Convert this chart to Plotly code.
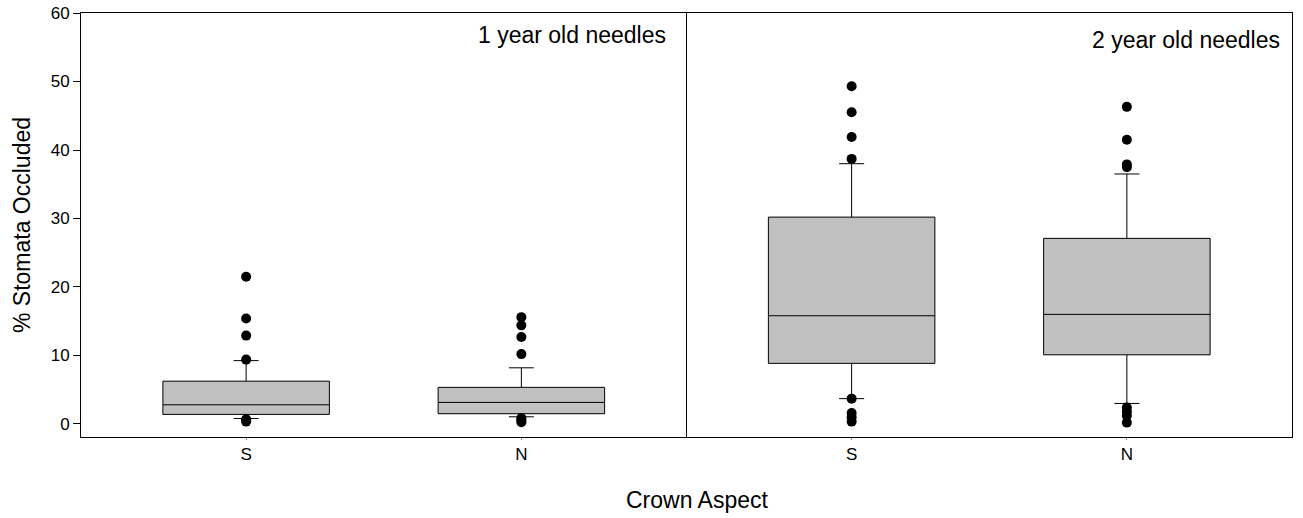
import plotly.graph_objects as go
from plotly.subplots import make_subplots

categories = ["S", "N"]
cat_pos = [0, 1]
panel_titles = ["1 year old needles", "2 year old needles"]

# panel 1: 1 year old needles
q1_p1 = [1.4, 1.5]
median_p1 = [2.8, 3.15]
q3_p1 = [6.25, 5.35]
lower_p1 = [0.8, 1.05]
upper_p1 = [9.25, 8.2]
outliers_p1_S = [21.5, 15.4, 12.9, 9.4, 0.7, 0.5, 0.35]
outliers_p1_N = [15.6, 14.4, 12.7, 10.2, 0.85, 0.55, 0.25]

# panel 2: 2 year old needles
q1_p2 = [8.85, 10.1]
median_p2 = [15.8, 16.0]
q3_p2 = [30.2, 27.1]
lower_p2 = [3.7, 3.0]
upper_p2 = [38.0, 36.5]
outliers_p2_S = [49.3, 45.5, 41.9, 38.7, 3.7, 1.6, 1.0, 0.35]
outliers_p2_N = [46.3, 41.5, 37.9, 37.5, 2.4, 1.8, 1.2, 0.2]

y_ticks = [0, 10, 20, 30, 40, 50, 60]

FONT = "Liberation Sans, Arial, sans-serif"
BOX_FILL = "#C0C0C0"

fig = make_subplots(rows=1, cols=2, horizontal_spacing=0, shared_yaxes=False)

panels = [
    (q1_p1, median_p1, q3_p1, lower_p1, upper_p1, [outliers_p1_S, outliers_p1_N]),
    (q1_p2, median_p2, q3_p2, lower_p2, upper_p2, [outliers_p2_S, outliers_p2_N]),
]

for col, (q1, med, q3, lo, hi, outs) in enumerate(panels, start=1):
    for i, cat in enumerate(categories):
        fig.add_trace(go.Box(
            x=[cat_pos[i]], q1=[q1[i]], median=[med[i]], q3=[q3[i]],
            lowerfence=[lo[i]], upperfence=[hi[i]],
            width=0.605, whiskerwidth=0.15, boxpoints=False,
            fillcolor=BOX_FILL, line=dict(color="black", width=1),
            showlegend=False, hoverinfo="skip",
        ), row=1, col=col)
        fig.add_trace(go.Scatter(
            x=[cat_pos[i]] * len(outs[i]), y=outs[i], mode="markers",
            marker=dict(color="black", size=10),
            showlegend=False, hoverinfo="skip",
        ), row=1, col=col)

xaxis_common = dict(
    range=[-0.6, 1.6], tickvals=cat_pos, ticktext=categories,
    showline=True, linecolor="black", linewidth=1, mirror=True,
    ticks="outside", ticklen=2, tickcolor="#888", showgrid=False, zeroline=False,
    automargin=False,
    tickfont=dict(family=FONT, size=17, color="black"),
)
fig.update_xaxes(**xaxis_common, row=1, col=1)
fig.update_xaxes(**xaxis_common, row=1, col=2)

fig.update_yaxes(
    range=[-1.9, 60], tickvals=y_ticks, showline=True, linecolor="black",
    linewidth=1, mirror=False, ticks="outside", ticklen=7, tickcolor="black",
    showgrid=False, zeroline=False, automargin=False, ticklabeloverflow="allow",
    tickfont=dict(family=FONT, size=17, color="black"), row=1, col=1,
)
fig.update_yaxes(
    range=[-1.9, 60], showticklabels=False, showline=True, linecolor="black",
    linewidth=1, mirror=True, ticks="", showgrid=False, zeroline=False,
    automargin=False, row=1, col=2,
)

fig.update_layout(
    template="none",
    width=1303, height=518,
    margin=dict(l=81, r=11, t=13, b=81, pad=0),
    plot_bgcolor="white", paper_bgcolor="white",
    font=dict(family=FONT, size=17, color="black"),
    annotations=[
        dict(text=panel_titles[0], x=0.4847, y=0.948, xref="paper", yref="paper",
             xanchor="right", yanchor="middle", showarrow=False,
             font=dict(family=FONT, size=23, color="black")),
        dict(text=panel_titles[1], x=0.9917, y=0.936, xref="paper", yref="paper",
             xanchor="right", yanchor="middle", showarrow=False,
             font=dict(family=FONT, size=23, color="black")),
        dict(text="Crown Aspect", x=0.5087, y=-0.1486, xref="paper", yref="paper",
             xanchor="center", yanchor="middle", showarrow=False,
             font=dict(family=FONT, size=23, color="black")),
        dict(text="% Stomata Occluded", x=-0.0487, y=0.5, xref="paper", yref="paper",
             xanchor="center", yanchor="middle", showarrow=False, textangle=-90,
             font=dict(family=FONT, size=23, color="black")),
    ],
)

fig.write_html("out.html", config={"displayModeBar": False},
               post_script="document.body.style.margin='0';")
